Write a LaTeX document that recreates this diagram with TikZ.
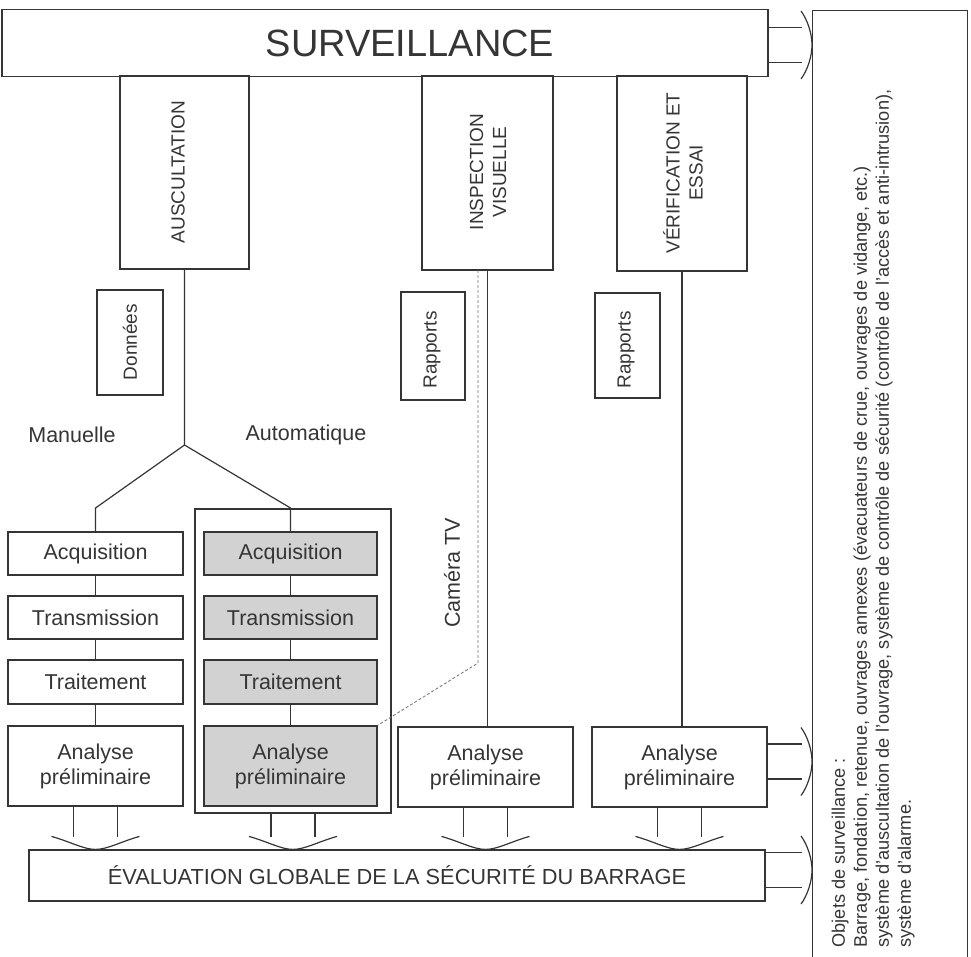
\documentclass[tikz,border=0pt]{standalone}
\usepackage{fontspec}
\setmainfont{Liberation Sans}
\usetikzlibrary{calc}
\newcommand\fsStd{\fontsize{21.5}{25}\selectfont}
\newcommand\fsWide{\fontsize{21.8}{25}\selectfont}
\newcommand\fsCap{\fontsize{19}{23}\selectfont}
\newcommand\fsBig{\fontsize{38}{44}\selectfont}
\newcommand\fsNote{\fontsize{18.2}{22}\selectfont}
\definecolor{ink}{HTML}{353535}
\definecolor{shade}{HTML}{D2D2D2}
% block arrow pointing down from node #1 onto the evaluation bar
\newcommand\hollowdown[1]{%
  \coordinate (tip) at (#1.south |- eval.north);
  \draw[hollow] ($(#1.south)+(-22,0)$) -- ($(tip)+(-22,-12)$)
                ($(#1.south)+(22,0)$) -- ($(tip)+(22,-12)$);
  \draw[hollow] ($(tip)+(-44,-13)$) .. controls +(18,5) and +(-12,0) .. (tip)
                .. controls +(12,0) and +(-18,5) .. ($(tip)+(44,-13)$);}
% block arrow pointing right from node #1 onto the side panel, shifted by #2
\newcommand\hollowright[2]{%
  \coordinate (tip) at ($(#1.east -| panel.west)+(0,#2)$);
  \draw[hollow] ($(#1.east)+(0,#2-17.5)$) -- ($(tip)+(-10,-17.5)$)
                ($(#1.east)+(0,#2+17.5)$) -- ($(tip)+(-10,17.5)$);
  \draw[hollow] ($(tip)+(-11,-34)$) .. controls +(6,8) and +(0,-12) .. (tip)
                .. controls +(0,12) and +(6,-8) .. ($(tip)+(-11,34)$);}
\begin{document}
\begin{tikzpicture}[x=1pt,y=-1pt,
  line width=1.2pt,
  every node/.style={text=ink},
  box/.style={draw=ink, rectangle, inner sep=0pt, font=\fsStd, align=center},
  autobox/.style={box, fill=shade},
  vlabel/.style={rotate=90, font=\fsCap, align=center, inner sep=0pt},
  plain/.style={font=\fsStd, inner sep=0pt},
  wire/.style={draw=ink},
  hollow/.style={draw=ink, line join=round},
  camwire/.style={draw=ink!70, line width=0.8pt, dash pattern=on 3pt off 2pt}]
\useasboundingbox (0,0) rectangle (971,956);
\clip (0,0) rectangle (971,956);

% top bar and side panel
\node[box, minimum width=766, minimum height=67] (surv) at (385,43) {};
\node[font=\fsBig, inner sep=0pt] (survlabel) at (410,43) {SURVEILLANCE};
\node[box, minimum width=155, minimum height=960, anchor=north west] (panel) at (812,10) {};
\node[rotate=90, anchor=north west, font=\fsNote, align=left, inner sep=0pt] (panelnote) at (831,948)
  {Objets de surveillance :\\
   Barrage, fondation, retenue, ouvrages annexes (évacuateurs de crue, ouvrages de vidange, etc.)\\
   système d'auscultation de l'ouvrage, système de contrôle de sécurité (contrôle de l'accès et anti-intrusion),\\
   système d'alarme.};

% the three branches of surveillance
\node[box, minimum width=129, minimum height=193] (ausc) at (184.5,172.5) {};
\node[vlabel] (ausclabel) at (178,172) {AUSCULTATION};
\node[box, minimum width=131, minimum height=194] (insp) at (487.5,173) {};
\node[vlabel] (insplabel) at (488,172) {INSPECTION\\VISUELLE};
\node[box, minimum width=130, minimum height=195] (verif) at (682,173.5) {};
\node[vlabel] (veriflabel) at (683,173) {VÉRIFICATION ET\\ESSAI};

% documents
\node[box, minimum width=66, minimum height=105] (donnees) at (130,342.5) {};
\node[vlabel] (donneeslabel) at (130,342) {Données};
\node[box, minimum width=64, minimum height=108] (rap1) at (433,346) {};
\node[vlabel] (rap1label) at (432,350) {Rapports};
\node[box, minimum width=65, minimum height=105] (rap2) at (627.5,345.5) {};
\node[vlabel] (rap2label) at (626,350) {Rapports};

\node[plain] (manu) at (72,435) {Manuelle};
\node[plain] (auto) at (306,435) {Automatique};

% manual chain
\node[box, minimum width=175, minimum height=43] (m1) at (95.5,553.5) {Acquisition};
\node[box, minimum width=175, minimum height=43] (m2) at (95.5,617.5) {Transmission};
\node[box, minimum width=175, minimum height=44] (m3) at (95.5,682) {Traitement};
\node[box, minimum width=175, minimum height=80] (m4) at (95.5,766) {Analyse\\préliminaire};

% automatic chain
\node[box, minimum width=196, minimum height=304] (autobox) at (293,661) {};
\node[autobox, minimum width=173, minimum height=43] (a1) at (290.5,553.5) {Acquisition};
\node[autobox, minimum width=173, minimum height=43] (a2) at (290.5,617.5) {Transmission};
\node[autobox, minimum width=173, minimum height=44] (a3) at (290.5,682) {Traitement};
\node[autobox, minimum width=173, minimum height=80] (a4) at (290.5,766) {Analyse\\préliminaire};

% other analyses
\node[box, minimum width=175, minimum height=80] (ana3) at (485.5,767) {Analyse\\préliminaire};
\node[box, minimum width=175, minimum height=80] (ana4) at (679.5,767) {Analyse\\préliminaire};

\node[box, minimum width=736, minimum height=51, font=\fsWide] (eval) at (397,875.5)
  {ÉVALUATION GLOBALE DE LA SÉCURITÉ DU BARRAGE};

% connectors
\coordinate (fork) at (184.5,445);
\coordinate (forkL) at (95.5,508);
\coordinate (forkR) at (290.5,508);
\draw[wire] (ausc.south) -- (fork) -- (forkL) -- (m1.north);
\draw[wire] (fork) -- (forkR) -- (a1.north);
\draw[wire] (m1) -- (m2) (m2) -- (m3) (m3) -- (m4);
\draw[wire] (a1) -- (a2) (a2) -- (a3) (a3) -- (a4);
\draw[wire] (insp.south) -- (insp.south |- ana3.north);
\draw[wire] (verif.south) -- (verif.south |- ana4.north);

% camera link
\coordinate (camtop) at (478,270);
\coordinate (camknee) at (478,663);
\draw[camwire] (camtop) -- (camknee) -- (a4.north east);
\node[rotate=90, font=\fsStd, inner sep=0pt] (camlabel) at (452,573) {Caméra TV};

% block arrows
\hollowdown{m4}
\hollowdown{autobox}
\hollowdown{ana3}
\hollowdown{ana4}
\hollowright{surv}{2}
\hollowright{ana4}{-5.5}
\hollowright{eval}{-5.5}
\end{tikzpicture}
\end{document}
